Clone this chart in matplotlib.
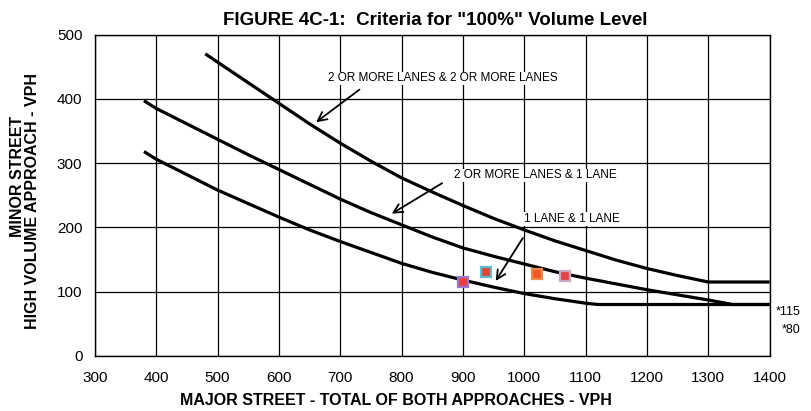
import numpy as np
import matplotlib
matplotlib.use("Agg")
import matplotlib.pyplot as plt

plt.rcParams['font.family'] = ['Liberation Sans', 'DejaVu Sans']

# Curves (major street vph, minor street vph)
two_two_x = [480, 500, 550, 600, 650, 700, 750, 800, 850, 900, 950, 1000,
             1050, 1100, 1150, 1200, 1250, 1300, 1400]
two_two_y = [470, 457, 425, 393, 361, 331, 303, 277, 255, 234, 214, 196,
             179, 164, 149, 136, 125, 115, 115]

two_one_x = [380, 400, 450, 500, 550, 600, 650, 700, 750, 800, 850, 900,
             950, 1000, 1050, 1100, 1150, 1200, 1250, 1300, 1340, 1400]
two_one_y = [397, 385, 361, 337, 313, 290, 267, 244, 223, 204, 185, 168,
             155, 143, 131, 121, 112, 103, 95, 87, 80, 80]

one_one_x = [380, 400, 450, 500, 550, 600, 650, 700, 750, 800, 850, 900,
             950, 1000, 1050, 1100, 1120, 1400]
one_one_y = [318, 306, 282, 258, 237, 216, 196, 178, 161, 144, 130, 118,
             107, 97, 89, 82, 80, 80]

# Plotted observations
pts_x = [900, 937, 1021, 1067]
pts_y = [115, 130, 127, 125]
pts_face = ['#e8403c', '#e2443c', '#f25a24', '#e24444']
pts_edge = ['#9c78cc', '#5cbcd2', '#f08a4a', '#c9a6c2']

fig = plt.figure(figsize=(8.11, 4.11), dpi=100)
ax = fig.add_axes([0.117, 0.134, 0.832, 0.782])

for xs, ys in [(two_two_x, two_two_y), (two_one_x, two_one_y), (one_one_x, one_one_y)]:
    ax.plot(xs, ys, color='black', lw=2.3, solid_capstyle='butt',
            solid_joinstyle='round', zorder=3)

for x, y, fc, ec in zip(pts_x, pts_y, pts_face, pts_edge):
    ax.plot(x, y, marker='s', ms=7.5, mfc=fc, mec=ec, mew=1.6, zorder=4)

ax.set_xlim(300, 1400)
ax.set_ylim(0, 500)
ax.set_xticks(np.arange(300, 1401, 100))
ax.set_yticks(np.arange(0, 501, 100))
ax.grid(True, color='black', lw=0.9)
ax.set_axisbelow(True)
ax.tick_params(length=0, labelsize=11)
ax.tick_params(axis='x', pad=11)
ax.tick_params(axis='y', pad=9)
for s in ax.spines.values():
    s.set_linewidth(1.0)

ax.set_title('FIGURE 4C-1:  Criteria for "100%" Volume Level',
             fontsize=13.5, fontweight='bold', pad=7, x=0.505)

ax.text(790, -70, 'MAJOR STREET - TOTAL OF BOTH APPROACHES - VPH',
        ha='center', va='center', fontsize=11.5, fontweight='bold')
fig.text(0.021, 0.571, 'MINOR STREET', rotation=90, ha='center', va='center',
         fontsize=11.5, fontweight='bold')
fig.text(0.040, 0.511, 'HIGH VOLUME APPROACH - VPH', rotation=90, ha='center',
         va='center', fontsize=11.5, fontweight='bold')

arrow = dict(arrowstyle='->', lw=1.3, color='black', mutation_scale=16)
ax.text(868, 432, '2 OR MORE LANES & 2 OR MORE LANES', ha='center', va='center',
        fontsize=8.5, bbox=dict(fc='white', ec='none', pad=0.5), zorder=5)
ax.annotate('', xy=(657, 361), xytext=(735, 417), arrowprops=arrow, zorder=5)

ax.text(1018, 281, '2 OR MORE LANES & 1 LANE', ha='center', va='center',
        fontsize=8.5, bbox=dict(fc='white', ec='none', pad=0.5), zorder=5)
ax.annotate('', xy=(780, 219), xytext=(870, 271), arrowprops=arrow, zorder=5)

ax.text(1078, 213, '1 LANE & 1 LANE', ha='center', va='center',
        fontsize=8.5, bbox=dict(fc='white', ec='none', pad=0.5), zorder=5)
ax.annotate('', xy=(951, 113), xytext=(1000, 187), arrowprops=arrow, zorder=5)

ax.text(1450, 69, '*115', ha='right', va='center', fontsize=9, clip_on=False)
ax.text(1450, 40, '*80', ha='right', va='center', fontsize=9, clip_on=False)

fig.savefig('out.png', dpi=100)
